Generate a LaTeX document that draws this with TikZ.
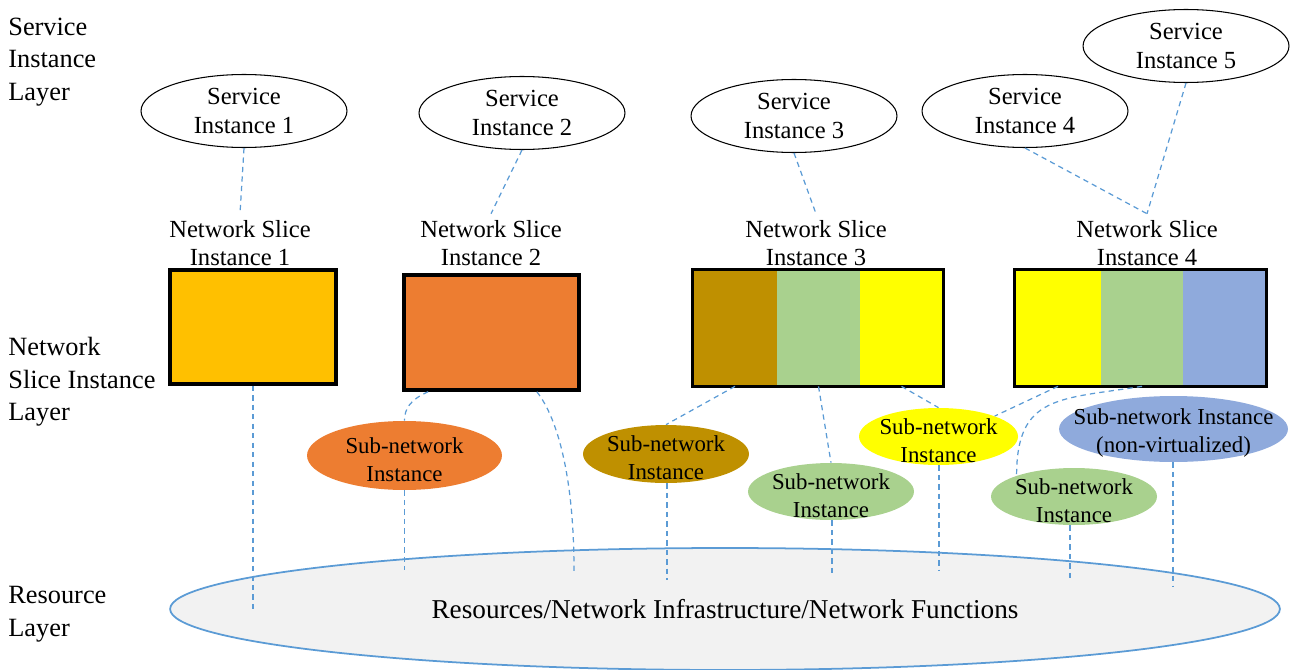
\documentclass[tikz,border=0pt]{standalone}
\usepackage{fontspec}
\setmainfont{Liberation Serif}
\usetikzlibrary{shapes.geometric,calc}
\definecolor{gold}{HTML}{FFC000}
\definecolor{orng}{HTML}{ED7D31}
\definecolor{brwn}{HTML}{BF9000}
\definecolor{grn}{HTML}{A9D18E}
\definecolor{ylw}{HTML}{FFFF00}
\definecolor{blu}{HTML}{8FAADC}
\definecolor{lnk}{HTML}{5B9BD5}
\definecolor{resfill}{HTML}{F2F2F2}
\newcommand{\txtA}{\fontsize{14}{16.4}\selectfont}
\newcommand{\txtB}{\fontsize{13}{15.8}\selectfont}
\newcommand{\txtC}{\fontsize{15}{18.6}\selectfont}
\begin{document}
\begin{tikzpicture}[x=0.02cm,y=-0.02cm]
\tikzset{layer/.style={anchor=west,align=left,inner sep=0pt,font=\txtC}}
\tikzset{serv/.style={ellipse,draw,line width=0.6pt,inner sep=0pt,minimum width=4.12cm,minimum height=1.46cm,label={[align=center,font=\txtA]center:#1}}}
\tikzset{lbl/.style={align=center,font=\txtA}}
\tikzset{slice/.style={draw,line width=2pt,inner sep=0pt}}
\tikzset{part/.style={inner sep=0pt,minimum height=2.32cm}}
\tikzset{sub/.style={ellipse,inner sep=0pt,label={[align=center,font=\txtB,yshift=-2.2pt]center:#1}}}
\tikzset{res/.style={ellipse,draw=lnk,line width=1pt,fill=resfill,inner sep=0pt,minimum width=22.2cm,minimum height=2.44cm,font=\fontsize{15.5}{18}\selectfont}}
\tikzset{link/.style={lnk,line width=0.7pt,dash pattern=on 3pt off 2.4pt}}

  \useasboundingbox (0,0) rectangle (1290,669);

  % layers
  \draw (8,62) node[layer] (lay1) {Service\\Instance\\Layer};
  \draw (8,382) node[layer] (lay2) {Network\\Slice Instance\\Layer};
  \draw (8,614) node[layer] (lay3) {Resource\\Layer};

  \draw (725,609) node[res] (res) {\raisebox{-1.5pt}{Resources/Network Infrastructure/Network Functions}};

  % service instances
  \draw (244,111) node[serv={Service\\Instance 1}] (si1) {};
  \draw (522,113) node[serv={Service\\Instance 2}] (si2) {};
  \draw (794,116) node[serv={Service\\Instance 3}] (si3) {};
  \draw (1025,111) node[serv={Service\\Instance 4}] (si4) {};
  \draw (1186,46) node[serv={Service\\Instance 5}] (si5) {};

  % slices
  \draw (240,243) node[lbl] (nsl1) {Network Slice\\Instance 1};
  \draw (491,243) node[lbl] (nsl2) {Network Slice\\Instance 2};
  \draw (816,243) node[lbl] (nsl3) {Network Slice\\Instance 3};
  \draw (1147,243) node[lbl] (nsl4) {Network Slice\\Instance 4};

  \draw (253,327) node[slice,fill=gold,minimum width=3.32cm,minimum height=2.28cm] (r1) {};
  \draw (491.5,332.5) node[slice,fill=orng,minimum width=3.5cm,minimum height=2.3cm] (r2) {};

  \draw (735,328) node[part,fill=brwn,minimum width=1.68cm] (s3a) {};
  \draw (818.5,328) node[part,fill=grn,minimum width=1.66cm] (s3b) {};
  \draw (901.5,328) node[part,fill=ylw,minimum width=1.66cm] (s3c) {};
  \draw[line width=2pt] (s3a.north west) rectangle (s3c.south east);

  \draw (1058,328) node[part,fill=ylw,minimum width=1.72cm] (s4a) {};
  \draw (1142,328) node[part,fill=grn,minimum width=1.64cm] (s4b) {};
  \draw (1224.5,328) node[part,fill=blu,minimum width=1.66cm] (s4c) {};
  \draw[line width=2pt] (s4a.north west) rectangle (s4c.south east);

  % sub-networks
  \draw (404.5,455.5) node[sub={Sub-network\\Instance},fill=orng,minimum width=3.9cm,minimum height=1.38cm] (sub2) {};
  \draw (666,454) node[sub={Sub-network\\Instance},fill=brwn,minimum width=3.32cm,minimum height=1.16cm] (sub3a) {};
  \draw (831,491.5) node[sub={Sub-network\\Instance},fill=grn,minimum width=3.32cm,minimum height=1.14cm] (sub3b) {};
  \draw (938.5,436.5) node[sub={Sub-network\\Instance},fill=ylw,minimum width=3.18cm,minimum height=1.14cm] (sub3c) {};
  \draw (1074,496.5) node[sub={Sub-network\\Instance},fill=grn,minimum width=3.32cm,minimum height=1.14cm] (sub4b) {};
  \draw (1173.5,429) node[sub={Sub-network Instance\\(non-virtualized)},fill=blu,minimum width=4.58cm,minimum height=1.32cm] (sub4c) {};

  \coordinate (g1) at (253,610);
  \coordinate (g2) at (404.5,570);
  \coordinate (g3) at (574,571);
  \coordinate (g4) at (667,580);
  \coordinate (g5) at (832,577);
  \coordinate (g6) at (939,571);
  \coordinate (g7) at (1070,580);
  \coordinate (g8) at (1173,587);

  % service to slice
  \draw[link] (si1.south) -- (nsl1.north);
  \draw[link] (si2.south) -- (nsl2.north);
  \draw[link] (si3.south) -- (nsl3.north);
  \draw[link] (si4.south) -- (nsl4.north);
  \draw[link] (si5.south) -- (nsl4.north);

  % slice to sub-network
  \draw[link] (r1.south) -- (g1);
  \draw[link] ($(r2.south west)!0.145!(r2.south east)$) .. controls +(-18,8) and +(0,-12) .. (sub2.north);
  \draw[link] ($(r2.south west)!0.754!(r2.south east)$) .. controls +(22,28) and +(0,-90) .. (g3);
  \draw[link] (s3a.south) -- (sub3a.north);
  \draw[link] (s3b.south) -- (sub3b.north);
  \draw[link] (s3c.south) -- (sub3c.north);
  \draw[link] (s4a.south) -- (sub3c.20);
  \draw[link] (s4b.south) .. controls +(-82,13) and +(0,-81) .. (sub4b.160);

  % sub-network to resources
  \draw[link] (g2 |- sub2.south) -- (g2);
  \draw[link] (g4 |- sub3a.south) -- (g4);
  \draw[link] (g5 |- sub3b.south) -- (g5);
  \draw[link] (g6 |- sub3c.south) -- (g6);
  \draw[link] (g7 |- sub4b.south) -- (g7);
  \draw[link] (g8 |- sub4c.south) -- (g8);

\end{tikzpicture}
\end{document}
